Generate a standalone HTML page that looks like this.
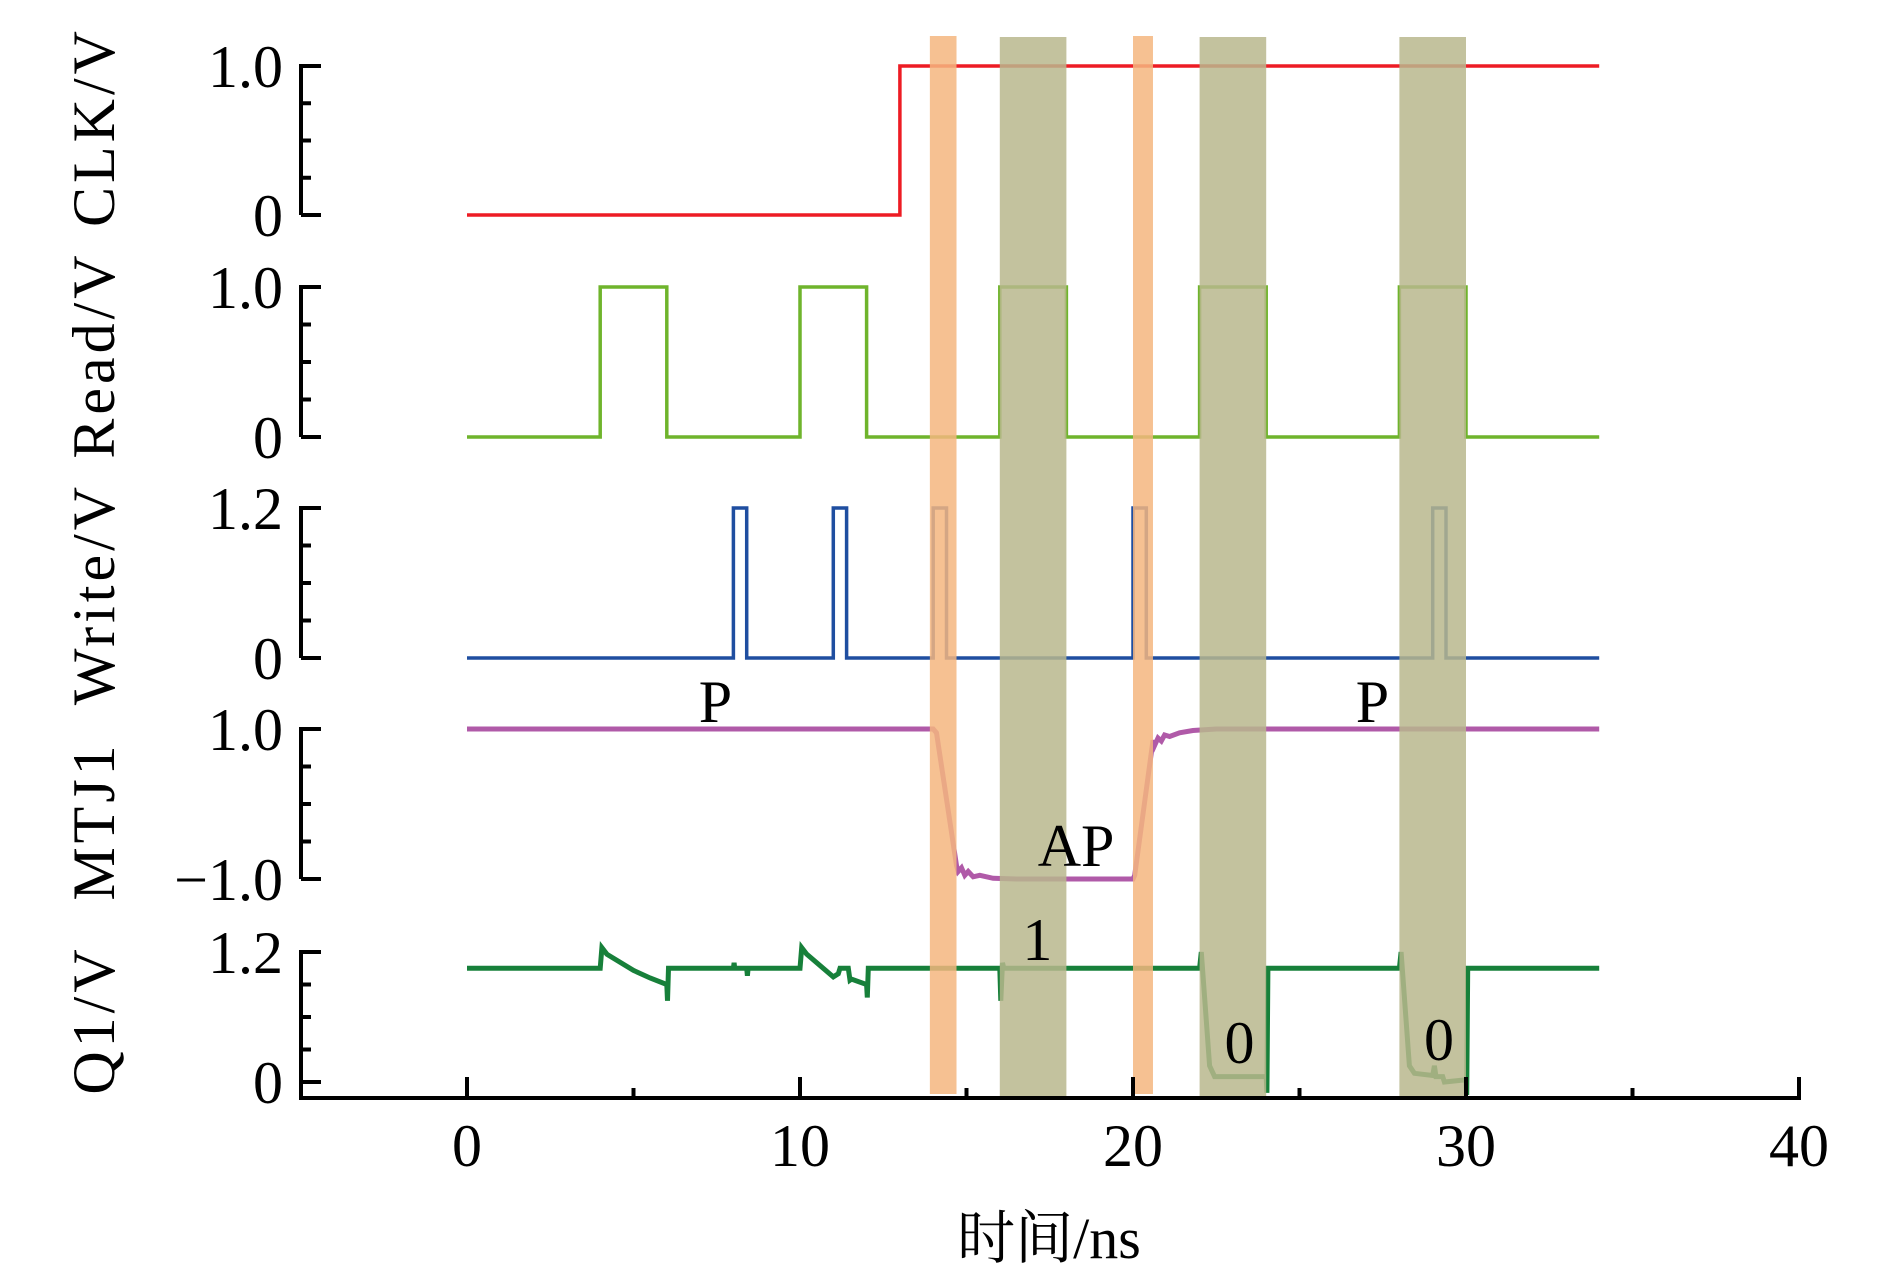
<!DOCTYPE html>
<html><head><meta charset="utf-8"><style>
html,body{margin:0;padding:0;background:#fff;}
svg{display:block;}
text{font-family:"Liberation Serif","Noto Serif CJK SC",serif;fill:#000;}
</style></head><body>
<svg id="chart" width="1890" height="1276" viewBox="0 0 1890 1276" xmlns="http://www.w3.org/2000/svg">
<g id="lines"></g>
<g id="bands"></g>
<g id="axes"></g>
<g id="labels"></g>
</svg>
<script>
// ---- data ----
const xTicks = [0, 10, 20, 30, 40];
const xMinorTicks = [5, 15, 25, 35];
const clkT = [0, 13, 13, 34];
const clkV = [0, 0, 1, 1];
const readPulses = [[4, 6], [10, 12], [16, 18], [22, 24], [28, 30]];
const writePulses = [[8, 8.4], [11, 11.4], [14, 14.4], [20, 20.4], [29, 29.4]];
const mtjT = [0, 14.0, 14.1, 14.7, 14.75, 14.85, 14.95, 15.05, 15.2, 15.4, 15.8, 16.5, 20.0, 20.05, 20.6, 20.65, 20.75, 20.85, 20.95, 21.1, 21.4, 21.8, 22.5, 34];
const mtjV = [1, 1, 0.95, -0.82, -0.9, -0.85, -0.95, -0.9, -0.97, -0.95, -0.99, -1, -1, -0.95, 0.85, 0.78, 0.88, 0.84, 0.92, 0.9, 0.95, 0.98, 1, 1];
const q1T = [0, 4.0, 4.05, 4.2, 5.0, 5.5, 6.0, 6.02, 6.05, 8.0, 8.02, 8.04, 8.4, 8.42, 8.44, 10.0, 10.05, 10.2, 11.0, 11.15, 11.2, 11.45, 11.5, 11.55, 12.0, 12.02, 12.05, 16.0, 16.03, 16.08, 16.12, 22.0, 22.05, 22.3, 22.45, 24.0, 24.02, 24.05, 28.0, 28.05, 28.3, 28.45, 29.0, 29.05, 29.1, 29.3, 29.35, 30.0, 30.02, 30.05, 34];
const q1V = [1.05, 1.05, 1.24, 1.18, 1.03, 0.96, 0.9, 0.75, 1.05, 1.05, 1.1, 1.05, 1.05, 0.98, 1.05, 1.05, 1.24, 1.18, 0.97, 1.0, 1.05, 1.05, 0.94, 0.95, 0.9, 0.78, 1.05, 1.05, 0.75, 1.1, 1.05, 1.05, 1.2, 0.15, 0.05, 0.05, -0.1, 1.05, 1.05, 1.2, 0.15, 0.08, 0.06, 0.15, 0.05, 0.05, 0.0, 0.02, -0.12, 1.05, 1.05];
const orangeBands = [[13.9, 14.7], [20.0, 20.6]];
const oliveBands = [[16, 18], [22, 24], [28, 30]];
const panelTitles = ["CLK/V", "Read/V", "Write/V", "MTJ1", "Q1/V"];
const panelTickLabels = [["1.0", "0"], ["1.0", "0"], ["1.2", "0"], ["1.0", "\u22121.0"], ["1.2", "0"]];
const panelRanges = [[0, 1], [0, 1], [0, 1.2], [-1, 1], [0, 1.2]];

// ---- layout ----
const NS = "http://www.w3.org/2000/svg";
const X0 = 467, PX = 33.3;
const xs = t => X0 + t * PX;
const panelTop = [66, 287, 508, 729, 952];
const panelBot = [215, 437, 658, 879, 1082];
const ys = (p, v) => {
  const [lo, hi] = panelRanges[p];
  return panelBot[p] - (v - lo) / (hi - lo) * (panelBot[p] - panelTop[p]);
};
function mk(tag, attrs, parent) {
  const e = document.createElementNS(NS, tag);
  for (const k in attrs) e.setAttribute(k, attrs[k]);
  parent.appendChild(e);
  return e;
}
const gL = document.getElementById('lines');
const gB = document.getElementById('bands');
const gA = document.getElementById('axes');
const gT = document.getElementById('labels');

function drawSeries(p, T, V, color, w, name) {
  const d = T.map((t, i) => (i ? 'L' : 'M') + xs(t).toFixed(1) + ' ' + ys(p, V[i]).toFixed(1)).join(' ');
  const e = mk('path', {d: d, fill: 'none', stroke: color, 'stroke-width': w, 'stroke-linejoin': 'miter'}, gL);
  
  
}
function pulsesToSeries(pulses, hi) {
  const T = [0], V = [0];
  pulses.forEach(([a, b]) => { T.push(a, a, b, b); V.push(0, hi, hi, 0); });
  T.push(34); V.push(0);
  return [T, V];
}
drawSeries(0, clkT, clkV, '#ed1c24', 3.5, 'clk-trace');
const rs = pulsesToSeries(readPulses, 1);
drawSeries(1, rs[0], rs[1], '#6fb42c', 3.5, 'read-trace');
const ws = pulsesToSeries(writePulses, 1.2);
drawSeries(2, ws[0], ws[1], '#1f4ea0', 3.5, 'write-trace');
drawSeries(3, mtjT, mtjV, '#b05aa8', 5, 'mtj1-trace');
drawSeries(4, q1T, q1V, '#17803a', 5, 'q1-trace');

// bands
orangeBands.forEach(([a, b]) => {
  const e = mk('rect', {x: xs(a), y: 36, width: xs(b) - xs(a), height: 1094 - 36, fill: '#f4b67f', 'fill-opacity': 0.85}, gB);
  
  
});
oliveBands.forEach(([a, b]) => {
  const e = mk('rect', {x: xs(a), y: 37, width: xs(b) - xs(a), height: 1098 - 37, fill: '#b8b78d', 'fill-opacity': 0.85}, gB);
  
  
});

// y axes
const AX = 301;
for (let p = 0; p < 5; p++) {
  const bottom = p === 4 ? 1098 : panelBot[p];
  const sp = mk('line', {x1: AX, y1: panelTop[p] - 2, x2: AX, y2: bottom, stroke: '#000', 'stroke-width': 4}, gA);
  
  
  for (let i = 0; i <= 4; i++) {
    const y = panelTop[p] + i * (panelBot[p] - panelTop[p]) / 4;
    const major = (i === 0 || i === 4);
    const tk = mk('line', {x1: AX, y1: y, x2: AX + (major ? 20 : 10), y2: y, stroke: '#000', 'stroke-width': 4}, gA);
    
    
  }
  const l1 = mk('text', {x: 283, y: panelTop[p] + 21, 'font-size': 60, 'text-anchor': 'end'}, gA);
  l1.textContent = panelTickLabels[p][0];
  
  
  const l2 = mk('text', {x: 283, y: panelBot[p] + 21, 'font-size': 60, 'text-anchor': 'end'}, gA);
  l2.textContent = panelTickLabels[p][1];
  
  
}
const titleY = [127, 355, 594, 821, 1020];
panelTitles.forEach((s, i) => {
  const t = mk('text', {x: 0, y: 0, 'font-size': 60, 'text-anchor': 'middle', transform: 'translate(114,' + titleY[i] + ') rotate(-90)', 'letter-spacing': 4}, gA);
  t.textContent = s;
  
  
});

// x axis
const xa = mk('line', {x1: AX - 2, y1: 1098, x2: xs(40) + 2, y2: 1098, stroke: '#000', 'stroke-width': 4}, gA);


xTicks.forEach(v => {
  const tk = mk('line', {x1: xs(v), y1: 1098, x2: xs(v), y2: 1077, stroke: '#000', 'stroke-width': 4}, gA);
  
  
  const t = mk('text', {x: xs(v), y: 1166, 'font-size': 60, 'text-anchor': 'middle'}, gA);
  t.textContent = v;
  
  
});
xMinorTicks.forEach(v => {
  const tk = mk('line', {x1: xs(v), y1: 1098, x2: xs(v), y2: 1088, stroke: '#000', 'stroke-width': 4}, gA);
  
  
});
const xl = mk('text', {x: 1049, y: 1258, 'font-size': 58, 'text-anchor': 'middle'}, gA);
xl.textContent = '时间/ns';



// annotations
const annTexts = ['P', 'P', 'AP', '1', '0', '0'];
const annT = [7.46, 27.19, 18.29, 17.13, 23.2, 29.19];
const annY = [722, 722, 866, 960, 1063, 1060];
annTexts.forEach((s, i) => {
  const t = mk('text', {x: xs(annT[i]), y: annY[i], 'font-size': 60, 'text-anchor': 'middle'}, gT);
  t.textContent = s;
  
  
});
</script>
</body></html>
